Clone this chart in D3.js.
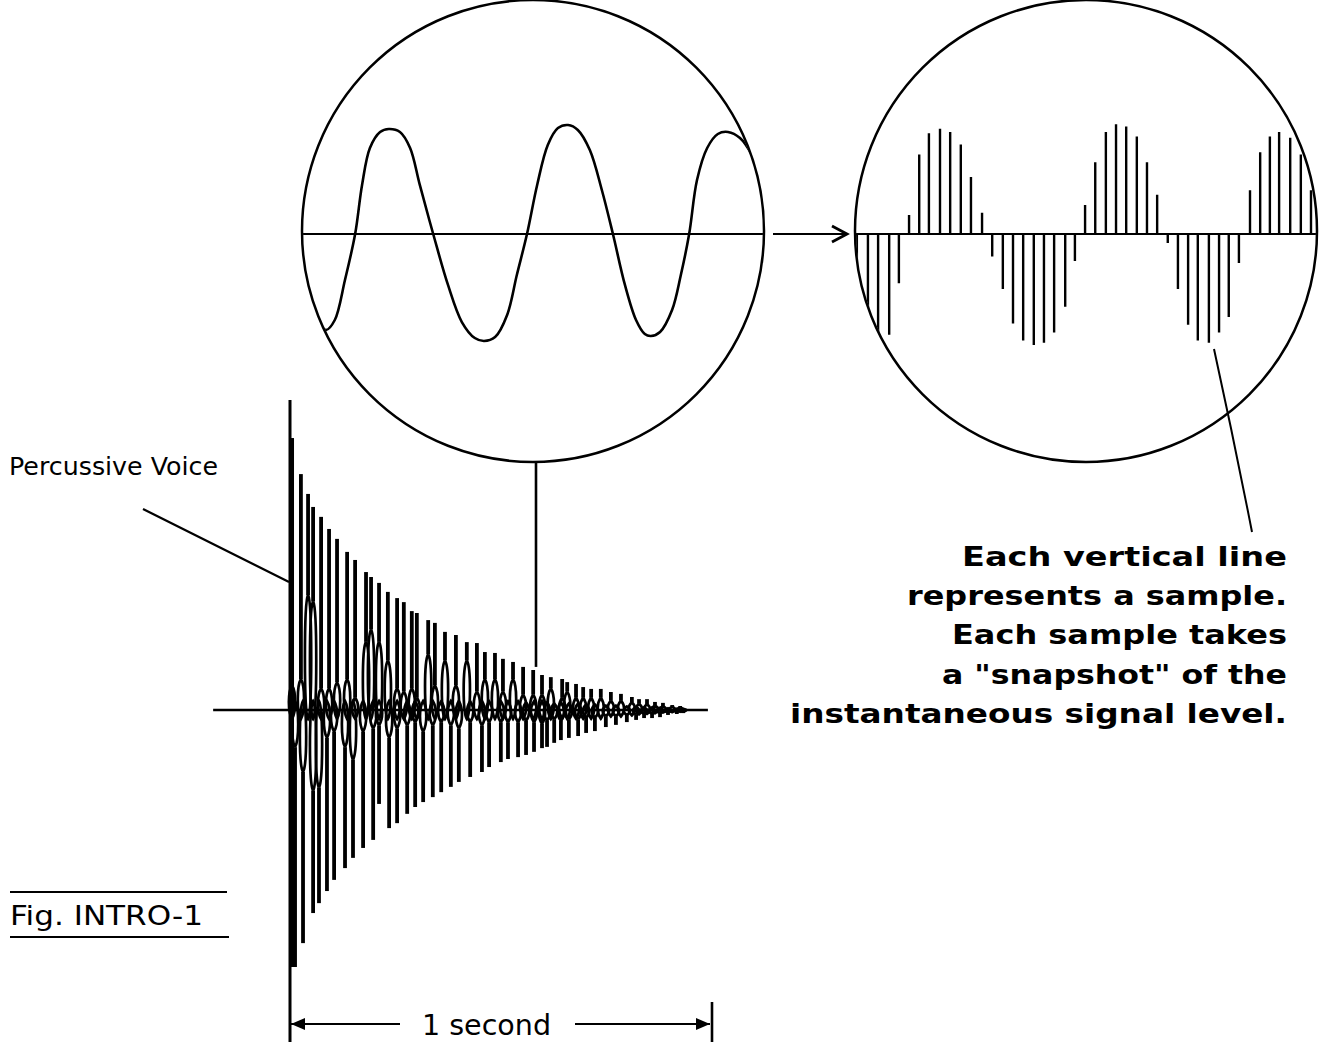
<!DOCTYPE html>
<html><head><meta charset="utf-8">
<script src="https://cdn.jsdelivr.net/npm/d3@7/dist/d3.min.js"></script>
<style>body{margin:0;background:#fff}svg{display:block}</style>
</head><body>
<svg id="c" width="1322" height="1042"></svg>
<script>
// ---------- DATA ----------
// Zoomed analog waveform (left circle): time (0-100 of window), amplitude (-100..100)
const curveT = [3.5,5.2,7.1,9.3,11.5,13.0,14.7,16.9,18.8,21.2,23.4,25.5,28.4,31.6,34.6,37.4,39.4,41.8,44.4,46.5,48.7,50.9,53.2,55.4,57.6,59.7,62.3,64.9,67.3,69.9,72.3,74.2,75.5,77.5,80.1,82.0,83.8,85.5,87.7,90.0,92.2,94.8,97.4,99.6];
const curveA = [-78.6,-85.7,-76.8,-41.1,0,43.8,76.8,91.1,93.8,91.1,76.8,43.8,0,-45.5,-78.6,-92.9,-95.5,-92.0,-72.3,-36.6,0,43.8,79.5,94.6,97.3,92.9,75.0,39.3,0,-45.5,-76.8,-89.3,-91.1,-87.5,-67.9,-36.6,0,48.2,76.8,89.3,91.1,85.7,70.5,48.2];
// Samples (right circle)
const sampleT = [0.4,2.8,5.0,7.4,9.5,11.7,13.9,16.0,18.4,20.6,22.9,25.1,27.5,29.7,32.0,34.2,36.4,38.7,40.9,43.1,45.5,47.6,49.8,52.0,54.3,56.5,58.7,61.0,63.2,65.4,67.7,69.9,72.1,74.2,76.6,78.8,80.9,83.1,85.5,87.7,89.8,91.8,94.2,96.5,98.7];
const sampleA = [-98,-95,-92,-90,-44,17,71,90,94,91,80,51,19,-20,-49,-80,-95,-99,-97,-88,-65,-24,26,64,91,98,96,87,64,35,-8,-49,-81,-95,-97,-88,-74,-26,39,73,87,91,86,71,39];
// Percussive voice (ms, % of full scale)
const firstSpike = {ms:0, top:100, bottom:-100};
const upperMs = [4.8,26,43,55,74,93,112,136,155,181,193,212,233,255,271,290,302,329,345,369,395,421,445,464,488,507,531,555,579,600,621,648,660,681,698,717,740,764,788,814,831,850,869,888,910,929];
const upperTop = [87.7,76.1,69.7,65.5,62.3,58.4,55.2,51.0,48.4,44.5,42.9,41.0,38.1,36.1,34.8,31.9,31.3,29.0,28.1,25.2,24.2,21.9,21.6,18.7,18.4,16.5,15.5,13.9,12.9,11.3,10.6,10.0,9.0,8.4,7.4,6.8,6.8,5.8,5.2,4.2,3.5,3.5,2.6,2.3,1.6,1.3];
const upperNeck = [8,10,37,35,7,7,9,10,4,22,26,22,16,7,6,7,4,18,8,16,8,16,6,10,10,6,10,5,5,5,7,4,6,4,4,4,4,3,3,2.5,2,1.8,1.5,1.2,1,0.8];
const lowerMs = [12,31,55,69,88,105,131,150,174,198,212,236,255,279,298,317,340,360,383,402,429,457,474,502,519,543,562,581,600,612,629,645,664,686,705,726,752,776,802,824,843,862,881,900,921,936];
const lowerBottom = [-82.9,-75.2,-65.5,-62.3,-58.4,-54.8,-51.0,-47.7,-44.5,-41.9,-30.3,-38.1,-36.5,-33.5,-31.3,-29.7,-28.1,-26.5,-24.8,-23.2,-21.6,-20.0,-18.4,-16.8,-15.8,-15.2,-14.5,-13.5,-12.3,-11.9,-10.6,-9.7,-9.0,-8.4,-7.4,-6.8,-5.5,-4.8,-3.9,-3.2,-2.6,-2.6,-2.3,-1.6,-1.3,-1.0];
const lowerNeck = [-12,-20,-26,-25,-9,-7,-12,-16,-7,-6,-5,-9,-6,-5,-4,-7,-5,-4,-5,-6,-4,-5,-4,-4,-4,-4,-3.5,-4,-4.5,-3.5,-3,-3.5,-3,-3,-2.5,-2.5,-2,-2,-1.6,-1.4,-1.2,-1.2,-1,-0.8,-0.6,-0.5];
// Texts
const noteLines = ["Each vertical line","represents a sample.","Each sample takes","a \"snapshot\" of the","instantaneous signal level."];
const noteWidths = [325,380,335,345,497];
const voiceLabel = "Percussive Voice";
const figLabel = "Fig. INTRO-1";
const spanLabel = "1 second";

// ---------- DRAW ----------
const svg = d3.select('#c');
svg.append('rect').attr('width',1322).attr('height',1042).attr('fill','#fff');
const defs = svg.append('defs');

const R = 231, CY = 231;
const xL = d3.scaleLinear().domain([0,100]).range([302,764]);
const xR = d3.scaleLinear().domain([0,100]).range([855,1317]);
const yC = d3.scaleLinear().domain([-100,100]).range([346,122]);
const cxL = xL(50), cxR = xR(50);

const xD = d3.scaleLinear().domain([0,1000]).range([290,710]);
const yD = d3.scaleLinear().domain([-100,100]).range([1020,400]);

defs.append('clipPath').attr('id','clipL').append('circle').attr('cx',cxL).attr('cy',CY).attr('r',R-1);
defs.append('clipPath').attr('id','clipR').append('circle').attr('cx',cxR).attr('cy',CY).attr('r',R-1);

const ink = '#000';

// left circle
const gl = svg.append('g').attr('clip-path','url(#clipL)');
gl.append('line').attr('x1',xL(0)).attr('x2',xL(100)).attr('y1',yC(0)).attr('y2',yC(0)).attr('stroke',ink).attr('stroke-width',2.2);
const line = d3.line().x((d,i)=>xL(curveT[i])).y((d,i)=>yC(curveA[i])).curve(d3.curveCatmullRom.alpha(0.5));
gl.append('path').attr('d',line(curveT)).attr('fill','none').attr('stroke',ink).attr('stroke-width',2.6);
svg.append('circle').attr('cx',cxL).attr('cy',CY).attr('r',R).attr('fill','none').attr('stroke',ink).attr('stroke-width',2.5);

// right circle
const gr = svg.append('g').attr('clip-path','url(#clipR)');
gr.append('line').attr('x1',xR(0)).attr('x2',xR(100)).attr('y1',yC(0)).attr('y2',yC(0)).attr('stroke',ink).attr('stroke-width',2.2);
gr.selectAll('line.s').data(sampleT).enter().append('line').attr('class','s')
  .attr('x1',d=>xR(d)).attr('x2',d=>xR(d)).attr('y1',yC(0)).attr('y2',(d,i)=>yC(sampleA[i]))
  .attr('stroke',ink).attr('stroke-width',2.4);
svg.append('circle').attr('cx',cxR).attr('cy',CY).attr('r',R).attr('fill','none').attr('stroke',ink).attr('stroke-width',2.5);

// arrow between circles
svg.append('line').attr('x1',773).attr('x2',846).attr('y1',yC(0)).attr('y2',yC(0)).attr('stroke',ink).attr('stroke-width',2.2);
svg.append('path').attr('d',`M832,${yC(0)-8} L847,${yC(0)} L832,${yC(0)+8}`).attr('fill','none').attr('stroke',ink).attr('stroke-width',2.8);

// leader from right circle to note
svg.append('path').attr('d','M1214,349 Q1234,440 1252,532').attr('fill','none').attr('stroke',ink).attr('stroke-width',2);

// connector from left circle to decay
svg.append('line').attr('x1',536).attr('x2',536).attr('y1',CY+R-1).attr('y2',yD(13.9)).attr('stroke',ink).attr('stroke-width',2.6);

// decay baseline
svg.append('line').attr('x1',xD(-183)).attr('x2',xD(995)).attr('y1',yD(0)).attr('y2',yD(0)).attr('stroke',ink).attr('stroke-width',2.6);

const gd = svg.append('g').attr('stroke',ink).attr('fill','none');
function loop(x, y1, y2){
  const h = y2 - y1;
  if (Math.abs(h) < 2) return;
  const w = 4.2, k = Math.min(Math.abs(h)*0.3, 7) * Math.sign(h);
  gd.append('path').attr('stroke-width',2.7)
    .attr('d',`M${x},${y1} C${x-w},${y1+k} ${x-w},${y2-k} ${x},${y2} C${x+w},${y2-k} ${x+w},${y1+k} ${x},${y1}`);
}
// first spike (full)
gd.append('line').attr('x1',xD(firstSpike.ms)).attr('x2',xD(firstSpike.ms))
  .attr('y1',yD(firstSpike.top)).attr('y2',1042).attr('stroke-width',3);
const y0 = yD(0);
upperMs.forEach((t,i)=>{
  const x = xD(t), yt = yD(upperTop[i]), yn = yD(upperNeck[i]);
  gd.append('line').attr('x1',x).attr('x2',x).attr('y1',yt).attr('y2',yn).attr('stroke-width',3.8);
  loop(x, yn, y0 + Math.min(9,(y0-yn)*0.7));
});
lowerMs.forEach((t,i)=>{
  const x = xD(t), yb = yD(lowerBottom[i]), yn = yD(lowerNeck[i]);
  gd.append('line').attr('x1',x).attr('x2',x).attr('y1',yb).attr('y2',yn).attr('stroke-width',3.8);
  loop(x, yn, y0 - Math.min(9,(yn-y0)*0.7));
});
// extra thickness of initial burst
gd.append('line').attr('x1',xD(upperMs[0])).attr('x2',xD(upperMs[0])).attr('y1',yD(upperTop[0])).attr('y2',yD(lowerBottom[0])).attr('stroke-width',4);

// Percussive voice label + leader
const fontN = "'DejaVu Sans', 'Liberation Sans', sans-serif";
svg.append('text').attr('x',9).attr('y',475).attr('font-family',fontN).attr('font-size',24)
  .attr('textLength',209).attr('lengthAdjust','spacingAndGlyphs').text(voiceLabel);
svg.append('line').attr('x1',143).attr('y1',509).attr('x2',xD(0)-1).attr('y2',582).attr('stroke',ink).attr('stroke-width',2.2);

// Fig label
svg.append('line').attr('x1',10).attr('x2',227).attr('y1',892).attr('y2',892).attr('stroke',ink).attr('stroke-width',2);
svg.append('text').attr('x',10).attr('y',925).attr('font-family',fontN).attr('font-size',27)
  .attr('textLength',193).attr('lengthAdjust','spacingAndGlyphs').text(figLabel);
svg.append('line').attr('x1',10).attr('x2',229).attr('y1',937).attr('y2',937).attr('stroke',ink).attr('stroke-width',2);

// 1 second bracket
const by = 1024;
svg.append('line').attr('x1',xD(0)).attr('x2',400).attr('y1',by).attr('y2',by).attr('stroke',ink).attr('stroke-width',2.2);
svg.append('path').attr('d',`M${xD(0)+1},${by} L${xD(0)+15},${by-6} L${xD(0)+15},${by+6} Z`).attr('fill',ink);
svg.append('line').attr('x1',575).attr('x2',xD(1000)).attr('y1',by).attr('y2',by).attr('stroke',ink).attr('stroke-width',2.2);
svg.append('path').attr('d',`M${xD(1000)},${by} L${xD(1000)-14},${by-6} L${xD(1000)-14},${by+6} Z`).attr('fill',ink);
svg.append('line').attr('x1',xD(1000)+2).attr('x2',xD(1000)+2).attr('y1',1002).attr('y2',1042).attr('stroke',ink).attr('stroke-width',2.6);
svg.append('text').attr('x',422).attr('y',1035).attr('font-family',fontN).attr('font-size',28)
  .attr('textLength',129).attr('lengthAdjust','spacingAndGlyphs').text(spanLabel);

// note text
const rightEdge = 1287;
const baseY = [566,605,644,684,723];
noteLines.forEach((s,i)=>{
  svg.append('text').attr('x',rightEdge-noteWidths[i]).attr('y',baseY[i])
    .attr('font-family',fontN).attr('font-weight','bold').attr('font-size',27)
    .attr('textLength',noteWidths[i]).attr('lengthAdjust','spacingAndGlyphs').text(s);
});
</script>
</body></html>
